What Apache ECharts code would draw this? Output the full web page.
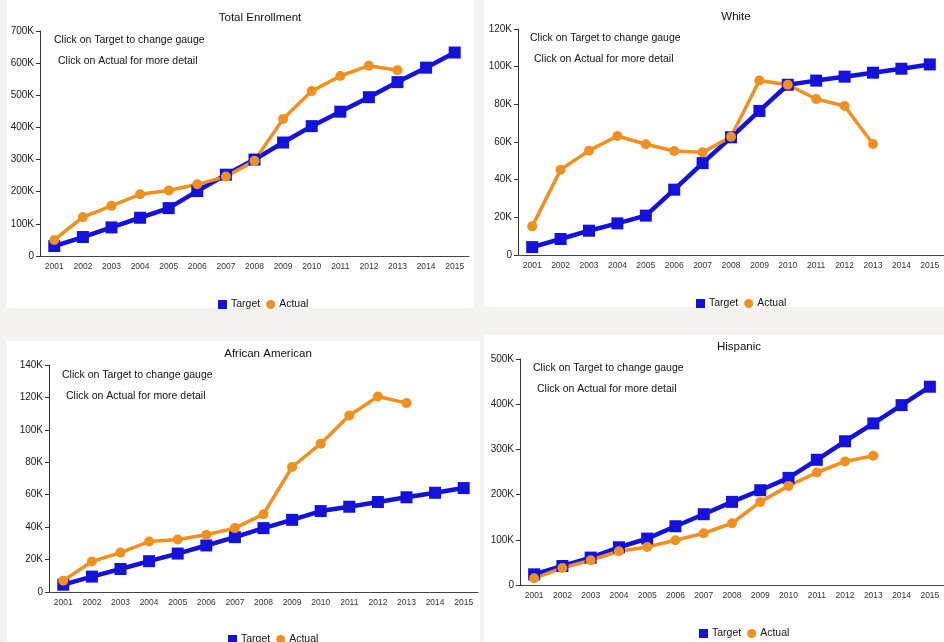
<!DOCTYPE html>
<html>
<head>
<meta charset="utf-8">
<script src="https://cdn.jsdelivr.net/npm/echarts@6/dist/echarts.min.js"></script>
<style>
  html, body { margin: 0; padding: 0; background: #f4f3ef; }
  #chart { width: 944px; height: 642px; }
</style>
</head>
<body>
<div id="chart"></div>
<script>
// Enrollment by year: target vs actual, four groups
const years = ['2001','2002','2003','2004','2005','2006','2007','2008','2009','2010','2011','2012','2013','2014','2015'];

const totalTarget = [31000, 59000, 89000, 119000, 149000, 202000, 253000, 300000, 353000, 404000, 449000, 494000, 541000, 586000, 633000];
const totalActual = [50000, 121000, 156000, 192000, 204000, 223000, 247000, 296000, 426000, 513000, 560000, 592000, 578000];

const whiteTarget = [4200, 8500, 12900, 16800, 20900, 34700, 48800, 62500, 76500, 90400, 92600, 94700, 96800, 98900, 101200];
const whiteActual = [15200, 45300, 55400, 63200, 58800, 55200, 54500, 62800, 92700, 90400, 82800, 79100, 58900];

const aaTarget = [4500, 9500, 14200, 19000, 23700, 28700, 33800, 39400, 44500, 49900, 52600, 55500, 58400, 61200, 64100];
const aaActual = [7000, 18800, 24300, 31100, 32400, 35300, 39400, 48000, 77100, 91500, 108900, 120600, 116500];

const hispTarget = [23600, 42000, 60600, 83500, 102700, 130000, 156600, 183900, 209700, 237000, 277000, 318000, 357500, 398000, 438700];
const hispActual = [14800, 37700, 54700, 74600, 84200, 99000, 114500, 136600, 183900, 219300, 248900, 273300, 285800];

const panelTitles = ['Total Enrollment', 'White', 'African American', 'Hispanic'];
const yMax = [700000, 120000, 140000, 500000];
const yStep = [100000, 20000, 20000, 100000];
const targets = [totalTarget, whiteTarget, aaTarget, hispTarget];
const actuals = [totalActual, whiteActual, aaActual, hispActual];
const noteLines = ['Click on Target to change gauge', 'Click on Actual for more detail'];

// Layout of each panel (page pixels)
const panels = [
  { box: [7, 0, 467, 308],   grid: [40, 31, 429, 225],  title: [255, 14],  legend: [213, 300], note: [54, 40] },
  { box: [484, 0, 460, 307], grid: [518, 29, 429, 226], title: [731, 13],  legend: [691, 299], note: [530, 38] },
  { box: [7, 341, 473, 301], grid: [49, 365, 429, 227], title: [263, 350], legend: [223, 635], note: [62, 375] },
  { box: [484, 335, 460, 307], grid: [520, 359, 429, 226], title: [734, 343], legend: [694, 629], note: [533, 368] }
];

const BLUE = '#1212dc';
const ORANGE = '#f2901f';
const FONT = '"Liberation Sans", Arial, sans-serif';

const fmtK = v => (v === 0 ? '0' : (v / 1000) + 'K');

const option = {
  animation: false,
  textStyle: { fontFamily: FONT },
  title: [], grid: [], xAxis: [], yAxis: [], legend: [], series: [], graphic: []
};

panels.forEach((p, i) => {
  option.graphic.push({
    type: 'rect', z: -10, silent: true,
    shape: { x: p.box[0], y: p.box[1], width: p.box[2], height: p.box[3] },
    style: { fill: '#ffffff' }
  });
  noteLines.forEach((t, k) => {
    option.graphic.push({
      type: 'text', z: 10,
      x: p.note[0] + k * 4, y: p.note[1] + k * 21,
      style: { text: t, fill: '#111', font: '10.5px ' + FONT, textVerticalAlign: 'middle', textAlign: 'left' }
    });
  });

  option.title.push({
    text: panelTitles[i],
    left: p.title[0], top: p.title[1] - 7,
    textAlign: 'center',
    textStyle: { fontSize: 11.5, fontWeight: 'normal', color: '#111', fontFamily: FONT }
  });

  option.grid.push({ left: p.grid[0], top: p.grid[1], width: p.grid[2], height: p.grid[3] });

  option.xAxis.push({
    type: 'category', gridIndex: i, data: years, boundaryGap: true,
    axisLine: { lineStyle: { color: '#444', width: 1 } },
    axisTick: { alignWithLabel: true, length: 3, lineStyle: { color: '#555' } },
    axisLabel: { fontSize: 8.5, color: '#333', margin: 6, interval: 0, fontFamily: FONT },
    splitLine: { show: false }
  });

  option.yAxis.push({
    type: 'value', gridIndex: i, min: 0, max: yMax[i], interval: yStep[i],
    axisLine: { show: true, lineStyle: { color: '#333', width: 1 } },
    axisTick: { show: true, length: 4, lineStyle: { color: '#333' } },
    axisLabel: { fontSize: 10, color: '#222', margin: 6, formatter: fmtK, fontFamily: FONT },
    splitLine: { show: false }
  });

  option.legend.push({
    left: p.legend[0], top: p.legend[1] - 6,
    itemWidth: 9, itemHeight: 9, itemGap: 6,
    selectedMode: false,
    textStyle: { fontSize: 10.5, color: '#111', padding: [0, 0, 0, -1] },
    data: [{ name: 'Target', icon: 'rect' }, { name: 'Actual', icon: 'circle' }]
  });

  option.series.push({
    name: 'Target', type: 'line', xAxisIndex: i, yAxisIndex: i,
    data: targets[i],
    symbol: 'rect', symbolSize: 12, showAllSymbol: true,
    lineStyle: { color: BLUE, width: 4.5 },
    itemStyle: { color: BLUE },
    emphasis: { disabled: true }
  });
  option.series.push({
    name: 'Actual', type: 'line', xAxisIndex: i, yAxisIndex: i,
    data: actuals[i],
    symbol: 'circle', symbolSize: 10, showAllSymbol: true,
    lineStyle: { color: ORANGE, width: 3.5 },
    itemStyle: { color: ORANGE },
    emphasis: { disabled: true }
  });
});

const chart = echarts.init(document.getElementById('chart'), null, { renderer: 'canvas' });
chart.setOption(option);
</script>
</body>
</html>
